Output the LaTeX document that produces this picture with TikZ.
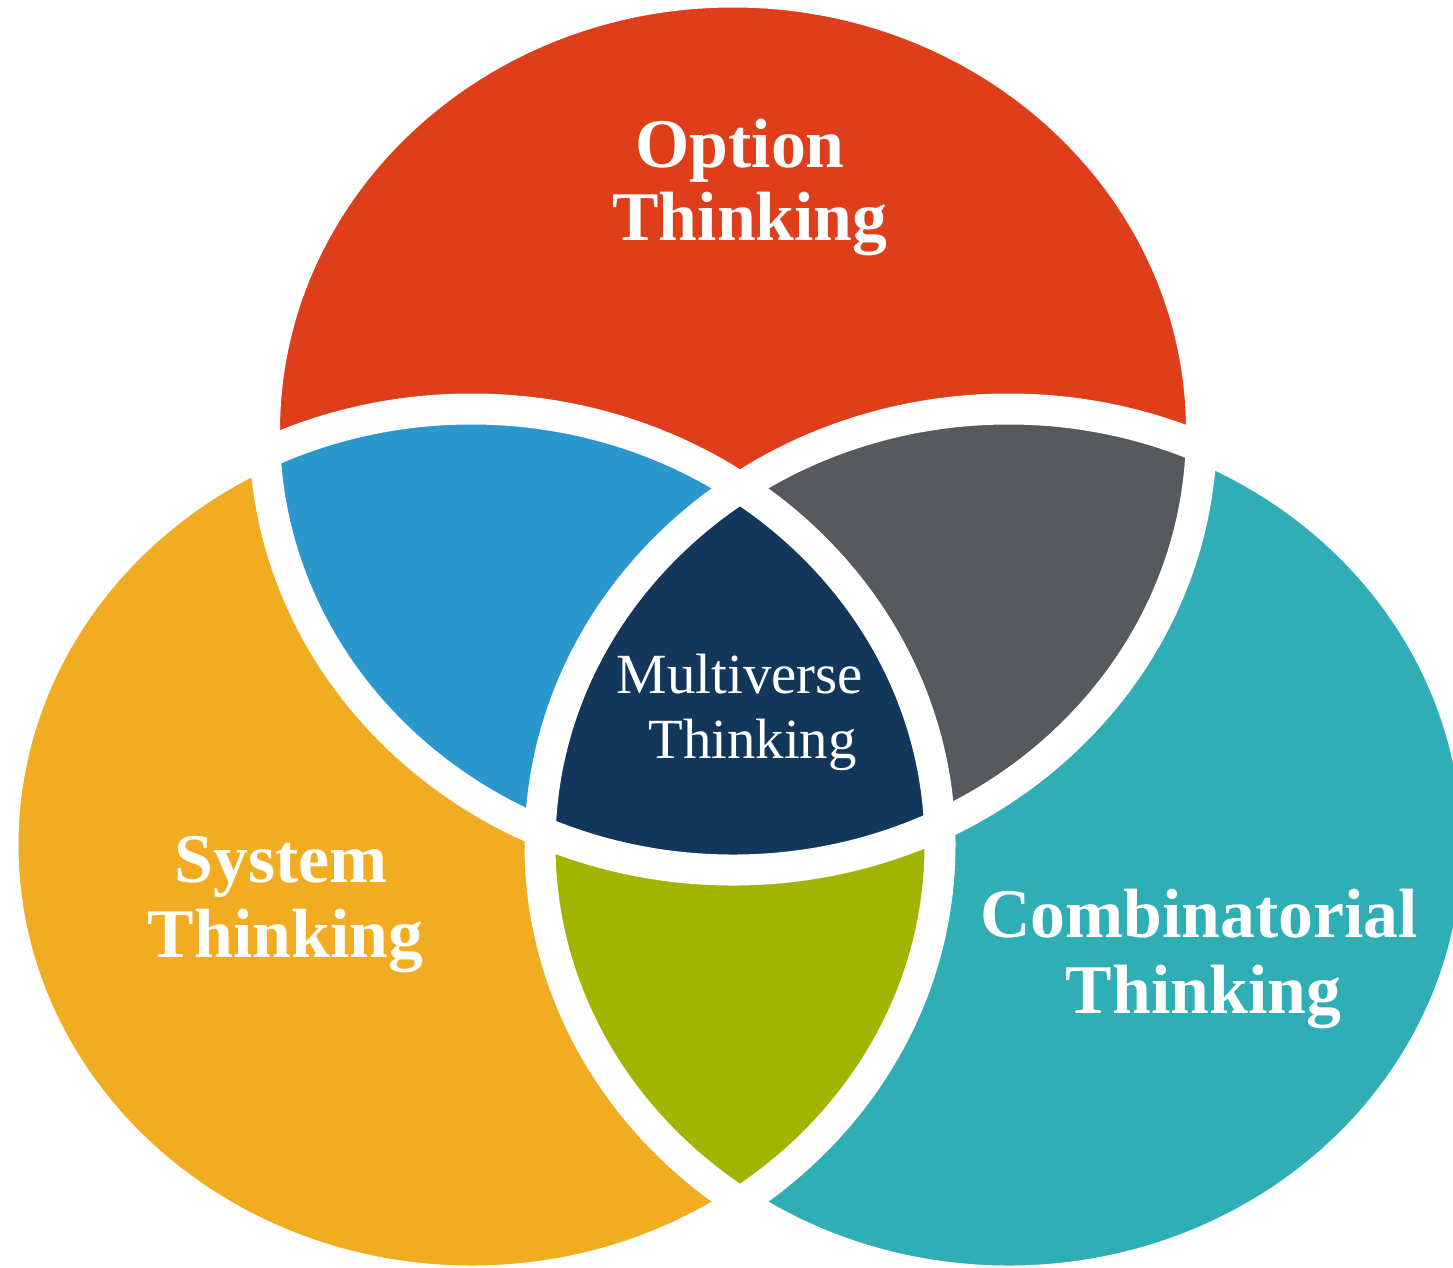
\documentclass[tikz,border=0pt]{standalone}
\usepackage{fontspec}
\setmainfont{Liberation Serif}
\definecolor{cRed}{HTML}{DE3F1A}
\definecolor{cOrange}{HTML}{F2AC21}
\definecolor{cTeal}{HTML}{2FAEB6}
\definecolor{cBlue}{HTML}{2A97CD}
\definecolor{cGray}{HTML}{565A5E}
\definecolor{cNavy}{HTML}{13375A}
\definecolor{cGreen}{HTML}{A2B400}
\tikzset{
  biglbl/.style={text=white, anchor=base, inner sep=0pt, font=\fontsize{70}{73}\selectfont\bfseries},
  midlbl/.style={text=white, anchor=base, inner sep=0pt, font=\fontsize{57}{65}\selectfont},
  gapline/.style={draw=white, line width=31bp}
}
\begin{document}
\begin{tikzpicture}[x=1bp,y=-1bp]
\useasboundingbox (0,0) rectangle (1453,1267);
% base circles
\fill[cRed] (733,431) ellipse [x radius=468.5bp, y radius=439bp];
\fill[cOrange] (471.5,845) ellipse [x radius=468.5bp, y radius=436bp];
\fill[cTeal] (1008.5,845) ellipse [x radius=468.5bp, y radius=436bp];
% top & left
\begin{scope}
  \clip (733,431) ellipse [x radius=468.5bp, y radius=439bp];
  \clip (471.5,845) ellipse [x radius=468.5bp, y radius=436bp];
  \fill[cBlue] (0,0) rectangle (1453,1267);
\end{scope}
% top & right
\begin{scope}
  \clip (733,431) ellipse [x radius=468.5bp, y radius=439bp];
  \clip (1008.5,845) ellipse [x radius=468.5bp, y radius=436bp];
  \fill[cGray] (0,0) rectangle (1453,1267);
\end{scope}
% left & right
\begin{scope}
  \clip (471.5,845) ellipse [x radius=468.5bp, y radius=436bp];
  \clip (1008.5,845) ellipse [x radius=468.5bp, y radius=436bp];
  \fill[cGreen] (0,0) rectangle (1453,1267);
\end{scope}
% all three
\begin{scope}
  \clip (733,431) ellipse [x radius=468.5bp, y radius=439bp];
  \clip (471.5,845) ellipse [x radius=468.5bp, y radius=436bp];
  \clip (1008.5,845) ellipse [x radius=468.5bp, y radius=436bp];
  \fill[cNavy] (0,0) rectangle (1453,1267);
\end{scope}
% white gaps
\draw[gapline] (733,431) ellipse [x radius=468.5bp, y radius=439bp];
\draw[gapline] (471.5,845) ellipse [x radius=468.5bp, y radius=436bp];
\draw[gapline] (1008.5,845) ellipse [x radius=468.5bp, y radius=436bp];
% labels
\node[biglbl] (opt1) at (740,167) {Option};
\node[biglbl] (opt2) at (750,240) {Thinking};
\node[biglbl] (sys1) at (281.5,882) {System};
\node[biglbl] (sys2) at (285.5,957) {Thinking};
\node[biglbl] (com1) at (1199,937) {Combinatorial};
\node[biglbl] (com2) at (1203.5,1013) {Thinking};
\node[midlbl] (mul1) at (740,693) {Multiverse};
\node[midlbl] (mul2) at (752.5,758) {Thinking};
\end{tikzpicture}
\end{document}
